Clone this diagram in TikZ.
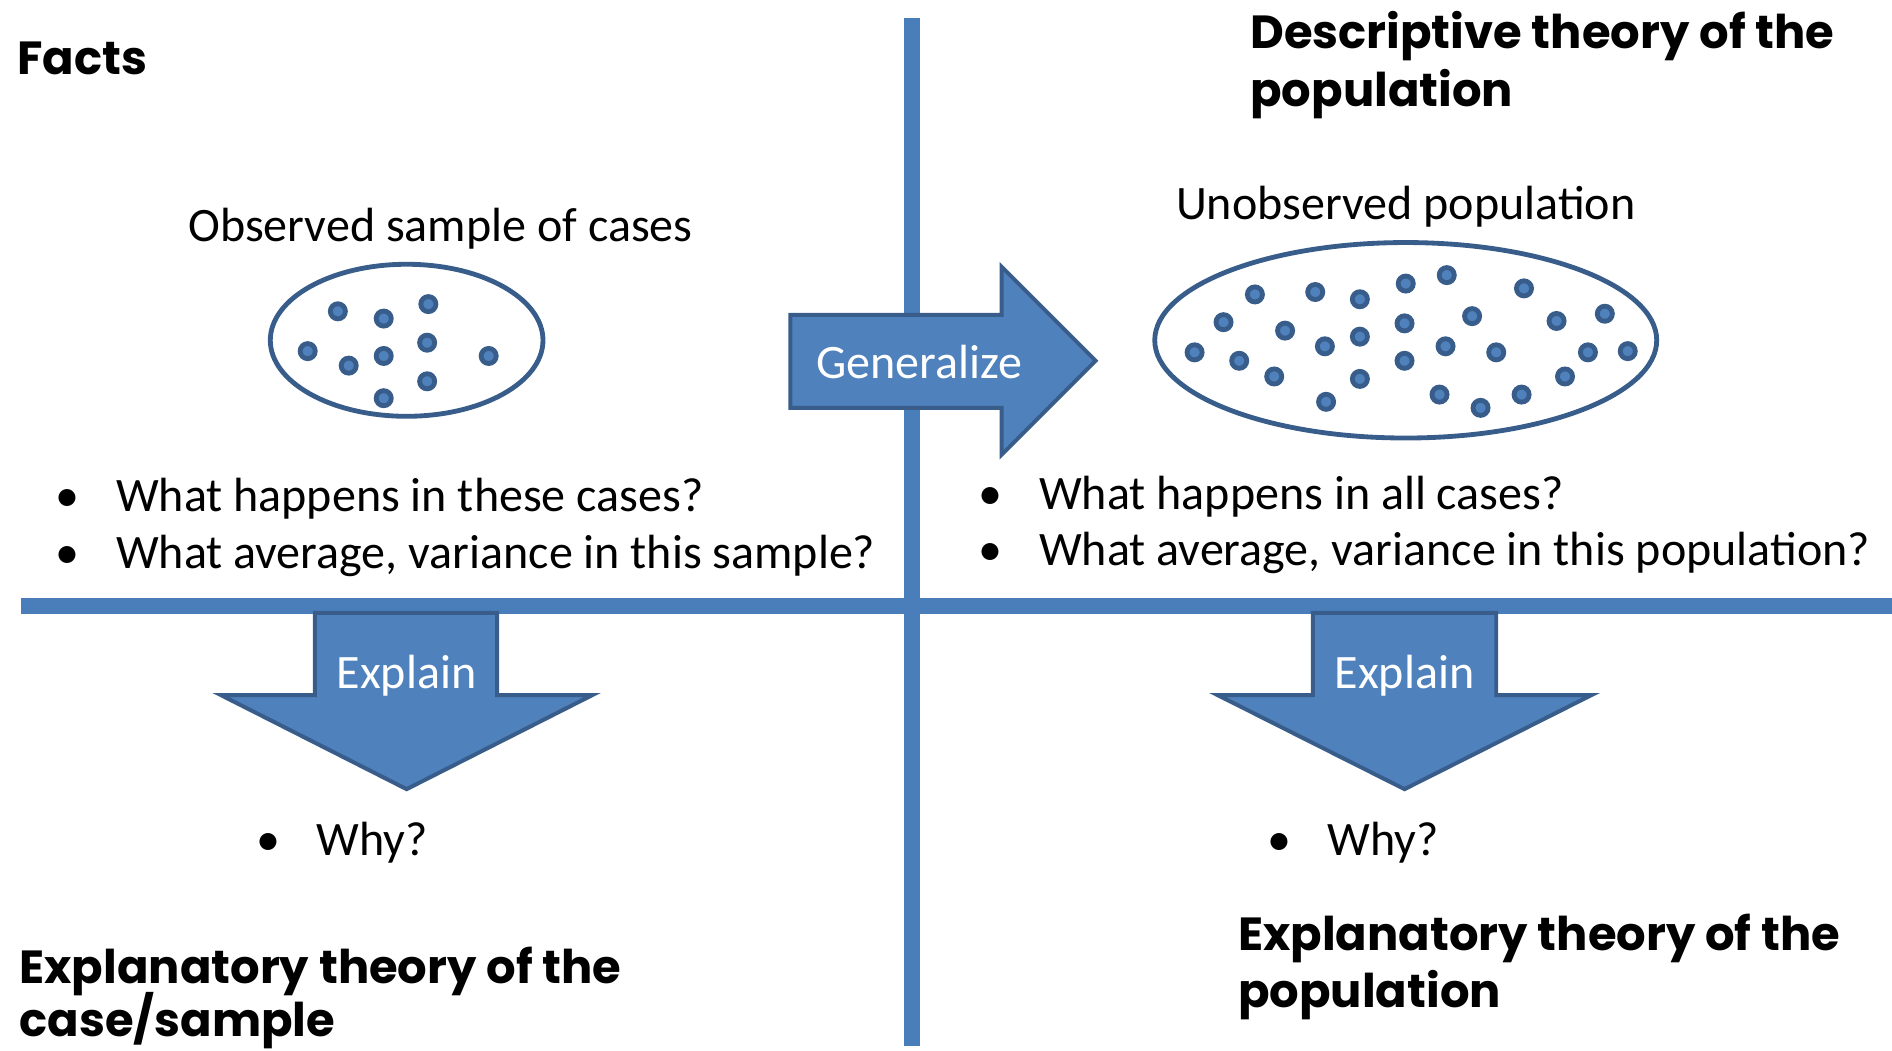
\documentclass[tikz,border=0pt]{standalone}
\usepackage{fontspec, xcolor, tikz}
\setmainfont{Carlito}
\newfontfamily\headfont{Poppins}
\definecolor{lineblue}{RGB}{74,126,187}
\definecolor{fillblue}{RGB}{79,129,189}
\definecolor{edgeblue}{RGB}{56,93,138}

\begin{document}
\begin{tikzpicture}[x=1pt,y=-1pt]
	\tikzstyle{Heading} = [anchor=base west, inner sep=0, font=\headfont\bfseries\fontsize{38.5}{44}\selectfont]
	\tikzstyle{Label} = [anchor=base, inner sep=0, font=\fontsize{39.8}{46}\selectfont]
	\tikzstyle{Bullet} = [anchor=base west, inner sep=0, font=\fontsize{39.8}{46}\selectfont]
	\tikzstyle{ArrowText} = [inner sep=0, text=white, font=\fontsize{39.8}{46}\selectfont]
	\tikzstyle{Dot} = [circle, minimum size=12.5pt, inner sep=0, fill=fillblue, draw=edgeblue, line width=4pt]
	\tikzstyle{blockarrow} = [fill=fillblue, draw=edgeblue, line width=3.3pt, line join=miter]
	\tikzstyle{axis} = [draw=lineblue, line width=13pt]

	\useasboundingbox (0,0) rectangle (1568,871);

	% quadrant lines
	\coordinate (vTop) at (756,15);
	\coordinate (vBot) at (756,867);
	\coordinate (hLeft) at (17,502);
	\coordinate (hRight) at (1568,502);
	\draw [axis] (vTop) -- (vBot);
	\draw [axis] (hLeft) -- (hRight);

	% headings
	\node (facts) [Heading] at (14,62) {Facts};
	\node (descHead) [Heading] at (1036,40) {Descriptive theory of the};
	\node (descPop) [Heading] at (1036,88) {population};
	\node (explHead) [Heading] at (16,815) {Explanatory theory of the};
	\node (explCase) [Heading] at (16,859) {case/sample};
	\node (explHeadR) [Heading] at (1026,788) {Explanatory theory of the};
	\node (explPop) [Heading] at (1026,835) {population};

	% sample and population
	\node (sampleLabel) [Label] at (365,200) {Observed sample of cases};
	\node (popLabel) [Label] at (1165,182) {Unobserved population};
	\draw [draw=edgeblue, line width=4pt] (337,282) ellipse [x radius=113, y radius=63];
	\draw [draw=edgeblue, line width=4pt] (1165,282) ellipse [x radius=208, y radius=81];
	\foreach \x/\y [count=\i] in {280/258, 318/264, 355/252, 255/291, 289/303, 318/295, 354/284, 405/295, 318/330, 354/316}
		\node (sd\i) [Dot] at (\x,\y) {};
	\foreach \x/\y [count=\i] in {1040/244, 1090/242, 1127/248, 1165/235, 1199/228, 1263/239, 1014/267, 1065/274,
		1164/268, 1220/262, 1290/266, 1330/260, 1127/279, 1098/287, 990/292, 1027/299, 1198/287, 1240/292,
		1164/299, 1316/292, 1349/291, 1056/312, 1127/314, 1297/312, 1099/333, 1193/327, 1227/338, 1261/327}
		\node (pd\i) [Dot] at (\x,\y) {};

	% questions
	\node (qCases) [Bullet] at (46,424) {\makebox[50pt][l]{•}What happens in these cases?};
	\node (qSample) [Bullet] at (46,471) {\makebox[50pt][l]{•}What average, variance in this sample?};
	\node (qAll) [Bullet] at (811,422) {\makebox[50pt][l]{•}What happens in all cases?};
	\node (qPop) [Bullet] at (811,469) {\makebox[50pt][l]{•}What average, variance in this population?};
	\node (whyL) [Bullet] at (212,709) {\makebox[50pt][l]{•}Why?};
	\node (whyR) [Bullet] at (1050,709) {\makebox[50pt][l]{•}Why?};

	% block arrows
	\draw [blockarrow] (655,261) -- (830,261) -- (830,221) -- (908,299) -- (830,377) -- (830,338) -- (655,338) -- cycle;
	\draw [blockarrow] (261,508) -- (412,508) -- (412,576) -- (491,576) -- (337,654) -- (183,576) -- (261,576) -- cycle;
	\draw [blockarrow] (1088,508) -- (1240,508) -- (1240,576) -- (1319,576) -- (1164,654) -- (1009,576) -- (1088,576) -- cycle;
	\node (generalize) [ArrowText] at (762,300) {Generalize};
	\node (explainL) [ArrowText] at (337,560) {Explain};
	\node (explainR) [ArrowText] at (1164,560) {Explain};
\end{tikzpicture}
\end{document}
